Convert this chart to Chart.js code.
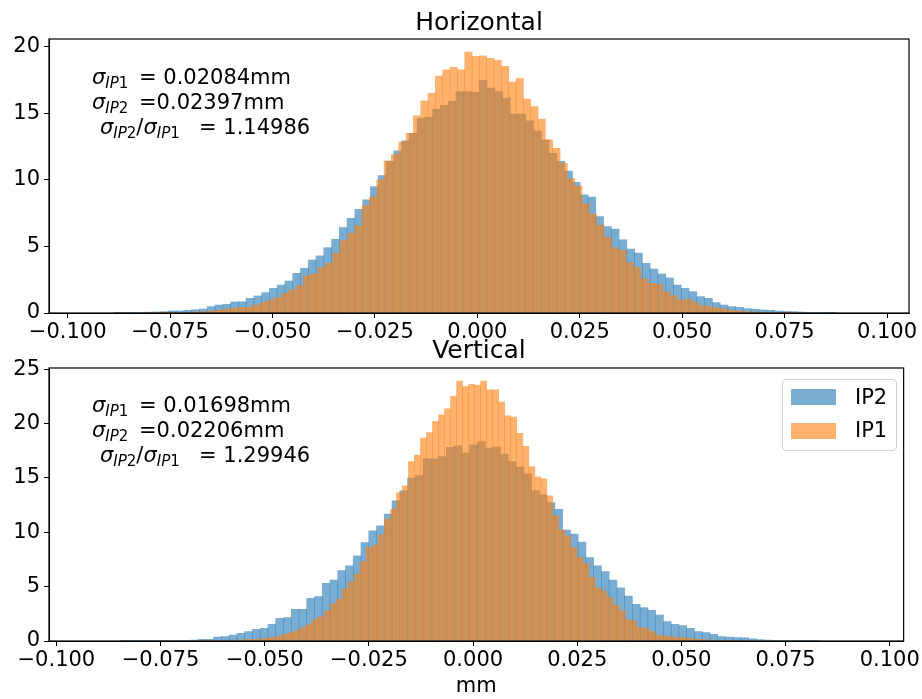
<!DOCTYPE html>
<html>
<head>
<meta charset="utf-8">
<script src="https://cdn.jsdelivr.net/npm/chart.js@4/dist/chart.umd.min.js"></script>
<style>
html,body{margin:0;padding:0;background:#fff;}
#wrap{position:relative;width:922px;height:699px;overflow:hidden;font-family:'DejaVu Sans',sans-serif;color:#000;}
canvas{position:absolute;left:0;}
.t{position:absolute;left:49px;width:860px;text-align:center;font-size:25px;line-height:25px;white-space:nowrap;}
.a{position:absolute;font-size:21px;line-height:21px;white-space:pre;}
.s{font-style:italic;}
.sb{font-size:15px;position:relative;top:4px;}
.sb i{font-style:italic;}
.leg{position:absolute;left:782px;top:379px;width:115px;height:72px;box-sizing:border-box;border:1px solid #d0d0d0;border-radius:4px;background:rgba(255,255,255,0.8);}
.lp{position:absolute;left:791px;width:45px;height:16px;}
.lt{position:absolute;left:855px;font-size:21px;line-height:21px;}
</style>
</head>
<body>
<div id="wrap">
  <canvas id="c1" width="922" height="352" style="top:0px"></canvas>
  <canvas id="c2" width="922" height="364" style="top:335px"></canvas>

  <div class="t" style="top:9px">Horizontal</div>
  <div class="t" style="top:337px">Vertical</div>

  <div class="a" style="left:92px;top:67px"><span class="s">σ</span><span class="sb"><i>IP</i>1</span></div>
  <div class="a" style="left:139px;top:67px">= 0.02084mm</div>
  <div class="a" style="left:92px;top:92px"><span class="s">σ</span><span class="sb"><i>IP</i>2</span></div>
  <div class="a" style="left:139px;top:92px">=0.02397mm</div>
  <div class="a" style="left:100px;top:117px"><span class="s">σ</span><span class="sb"><i>IP</i>2</span>/<span class="s">σ</span><span class="sb"><i>IP</i>1</span></div>
  <div class="a" style="left:199px;top:117px">= 1.14986</div>

  <div class="a" style="left:92px;top:395px"><span class="s">σ</span><span class="sb"><i>IP</i>1</span></div>
  <div class="a" style="left:139px;top:395px">= 0.01698mm</div>
  <div class="a" style="left:92px;top:420px"><span class="s">σ</span><span class="sb"><i>IP</i>2</span></div>
  <div class="a" style="left:139px;top:420px">=0.02206mm</div>
  <div class="a" style="left:100px;top:445px"><span class="s">σ</span><span class="sb"><i>IP</i>2</span>/<span class="s">σ</span><span class="sb"><i>IP</i>1</span></div>
  <div class="a" style="left:199px;top:445px">= 1.29946</div>

  <div class="leg"></div>
  <div class="lp" style="top:389px;background:rgba(31,119,180,0.6)"></div>
  <div class="lp" style="top:423px;background:rgba(255,127,14,0.6)"></div>
  <div class="lt" style="top:387px">IP2</div>
  <div class="lt" style="top:420px">IP1</div>
</div>
<script>
// ---------- DATA ----------
const seriesNames = ['IP2', 'IP1'];
const xTickValues = [-0.100, -0.075, -0.050, -0.025, 0.000, 0.025, 0.050, 0.075, 0.100];
const yTicksHorizontal = [0, 5, 10, 15, 20];
const yTicksVertical = [0, 5, 10, 15, 20, 25];

// Horizontal histogram bins (left edge of first bin, bin width)
const hIP2BinStart = -0.08870, hIP2BinWidth = 0.001897;
const hIP1BinStart = -0.07826, hIP1BinWidth = 0.001790;
// Vertical histogram bins
const vIP2BinStart = -0.08458, vIP2BinWidth = 0.001861;
const vIP1BinStart = -0.06605, vIP1BinWidth = 0.001444;

const hIP2 = [0.01,0.02,0.04,0.05,0.06,0.08,0.10,0.15,0.15,0.20,
0.25,0.30,0.48,0.60,0.65,0.83,0.85,1.10,1.28,1.53,
1.85,2.10,2.40,2.98,3.36,3.98,4.29,4.91,5.54,6.42,
7.12,7.79,8.50,9.50,10.33,11.40,12.18,12.93,13.50,14.60,
14.70,15.30,15.60,15.90,16.64,16.64,16.57,17.47,16.90,16.64,
16.14,14.96,14.94,14.44,13.68,13.00,12.00,11.40,10.66,9.82,
8.87,8.70,7.24,6.50,6.30,5.50,4.80,4.50,3.73,3.30,
2.93,2.63,2.10,1.85,1.60,1.23,1.10,0.78,0.60,0.48,
0.43,0.33,0.28,0.23,0.20,0.15,0.12,0.10,0.07,0.05,
0.03,0.02,0.01];

const hIP1 = [0.01,0.02,0.03,0.04,0.05,0.08,0.10,0.15,0.20,0.28,
0.35,0.43,0.43,0.60,0.78,0.98,1.15,1.48,1.73,2.05,
2.80,2.93,3.43,3.73,4.49,5.44,6.00,6.54,8.07,8.70,
10.00,11.43,11.90,12.83,13.50,14.80,15.94,16.50,17.80,18.27,
18.45,18.27,19.60,19.27,19.32,19.12,18.97,18.52,17.34,17.60,
16.07,15.50,14.56,13.00,12.36,11.25,10.10,9.55,8.20,7.42,
6.60,5.70,4.90,4.70,3.78,3.43,2.56,2.23,2.16,1.60,
1.30,0.98,1.03,0.78,0.53,0.48,0.38,0.28,0.20,0.15,
0.10,0.08,0.05,0.04,0.03,0.02,0.01];

const vIP2 = [0.01,0.01,0.02,0.02,0.03,0.04,0.05,0.06,0.06,0.09,
0.15,0.15,0.37,0.40,0.55,0.70,0.86,1.07,1.17,1.53,
2.09,2.15,2.91,2.91,3.93,4.08,5.30,5.60,6.47,6.90,
7.82,9.05,10.12,10.60,11.66,12.88,13.80,14.97,15.20,16.75,
16.75,16.96,17.80,17.94,17.27,18.04,18.34,17.73,17.82,17.18,
16.50,15.98,15.37,13.83,13.44,12.73,12.10,10.20,9.82,9.10,
7.67,6.90,6.38,5.60,4.90,4.14,3.37,3.07,2.82,2.39,
1.78,1.53,1.41,1.17,0.86,0.77,0.61,0.40,0.37,0.31,
0.28,0.21,0.12,0.09,0.07,0.05,0.04,0.03,0.02,0.01];

const vIP1 = [0.01,0.02,0.03,0.04,0.05,0.06,0.08,0.10,0.12,0.15,
0.18,0.25,0.34,0.40,0.61,0.77,0.95,1.23,1.56,2.00,
2.24,2.76,3.40,3.83,4.80,5.42,6.15,7.30,8.62,8.83,
9.75,11.20,12.10,13.65,14.26,16.50,17.10,18.65,19.17,20.20,
20.80,21.35,22.50,23.90,23.40,23.60,23.50,23.90,23.10,23.10,
21.96,20.70,20.58,19.10,17.90,16.04,15.10,14.90,13.34,11.50,
10.20,9.65,8.60,7.67,7.15,5.86,4.90,4.60,4.00,3.30,
2.80,2.00,1.84,1.23,1.17,0.86,0.55,0.46,0.40,0.31,
0.31,0.25,0.18,0.15,0.10,0.08,0.05,0.04,0.03,0.02,
0.01];

// ---------- CHART ----------
const FONT = "'DejaVu Sans', sans-serif";
const BLUE = 'rgba(31,119,180,0.6)';
const ORANGE = 'rgba(255,127,14,0.6)';

function toPoints(start, width, vals) {
  return vals.map((v, i) => ({ x: start + (i + 0.5) * width, y: v }));
}
function fmtX(v) {
  if (Math.abs(v) < 1e-9) return '0.000';
  return (v < 0 ? '\u2212' : '') + Math.abs(v).toFixed(3);
}

const framePlugin = {
  id: 'frame',
  afterDatasetsDraw(chart) {
    const { ctx, chartArea: a } = chart;
    ctx.save();
    ctx.strokeStyle = '#000';
    ctx.lineWidth = 1.2;
    ctx.strokeRect(a.left, a.top, a.right - a.left, a.bottom - a.top);
    ctx.restore();
  }
};

function makeHist(canvasId, ip2Pts, ip1Pts, xMin, xMax, yMax, yTicks, padTop, xAxisHeight, xTitle) {
  const tickFont = { family: FONT, size: 21 };
  const gridOpts = { display: true, drawOnChartArea: false, drawTicks: true, tickLength: 5, color: '#000', lineWidth: 1, offset: false };
  new Chart(document.getElementById(canvasId), {
    type: 'bar',
    data: {
      datasets: [
        { label: seriesNames[0], data: ip2Pts, xAxisID: 'x2', backgroundColor: BLUE, borderWidth: 0,
          barPercentage: 1, categoryPercentage: 1, grouped: false, order: 1 },
        { label: seriesNames[1], data: ip1Pts, xAxisID: 'x', backgroundColor: ORANGE, borderWidth: 0,
          barPercentage: 1, categoryPercentage: 1, grouped: false, order: 0 }
      ]
    },
    options: {
      responsive: false,
      animation: false,
      devicePixelRatio: 1,
      layout: { padding: { top: padTop, right: 13, left: 0, bottom: 0 } },
      plugins: { legend: { display: false }, tooltip: { enabled: false }, title: { display: false } },
      scales: {
        x: {
          type: 'linear', position: 'bottom', min: xMin, max: xMax, offset: false,
          afterBuildTicks: s => { s.ticks = xTickValues.map(v => ({ value: v })); },
          ticks: { callback: v => fmtX(v), font: tickFont, color: '#000', padding: 2, maxRotation: 0, autoSkip: false },
          grid: gridOpts,
          border: { display: true, color: '#000', width: 1 },
          title: { display: !!xTitle, text: xTitle || '', font: tickFont, color: '#000', padding: { top: 0, bottom: 0 } },
          afterFit: s => { s.height = xAxisHeight; }
        },
        x2: { type: 'linear', display: false, min: xMin, max: xMax, offset: false, grid: { offset: false } },
        y: {
          type: 'linear', min: 0, max: yMax,
          afterBuildTicks: s => { s.ticks = yTicks.map(v => ({ value: v })); },
          ticks: { font: tickFont, color: '#000', padding: 4, callback: v => String(v) },
          grid: gridOpts,
          border: { display: true, color: '#000', width: 1 },
          afterFit: s => { s.width = 49; }
        }
      }
    },
    plugins: [framePlugin]
  });
}

makeHist('c1',
  toPoints(hIP2BinStart, hIP2BinWidth, hIP2),
  toPoints(hIP1BinStart, hIP1BinWidth, hIP1),
  -0.10456, 0.10537, 20.58, yTicksHorizontal, 39, 39, null);

makeHist('c2',
  toPoints(vIP2BinStart, vIP2BinWidth, vIP2),
  toPoints(vIP1BinStart, vIP1BinWidth, vIP1),
  -0.10177, 0.10334, 25.1, yTicksVertical, 33, 58, 'mm');
</script>
</body>
</html>
